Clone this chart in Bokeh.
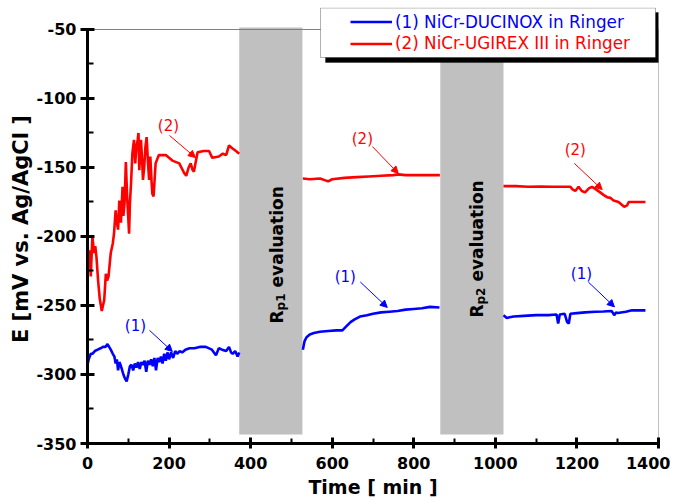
import math
from bokeh.plotting import figure
from bokeh.models import (Range1d, FixedTicker, ColumnDataSource, Legend, LegendItem,
                          Arrow, NormalHead, BoxAnnotation)
from bokeh.core.properties import value
from bokeh.embed import file_html
from bokeh.resources import INLINE

NAN = float("nan")

# ---------------- data ----------------
x_ticks = [0, 200, 400, 600, 800, 1000, 1200, 1400]
x_tick_labels = ["0", "200", "400", "600", "800", "1000", "1200", "1400"]
y_ticks = [-350, -300, -250, -200, -150, -100, -50]
y_tick_labels = ["-350", "-300", "-250", "-200", "-150", "-100", "-50"]

series_names = ["(1) NiCr-DUCINOX in Ringer", "(2) NiCr-UGIREX III in Ringer"]

# (1) blue series, three measurement segments
blue_t1 = [0, 3, 8, 12, 18, 25, 32, 38, 44, 49, 53, 57, 62, 66, 69, 72, 75, 78, 81, 84,
           88, 92, 96, 100, 104, 108, 112, 116, 120, 124, 128, 132, 136, 140, 144, 148,
           152, 156, 160, 164, 168, 172, 176, 180, 184, 188, 192, 196, 200, 205, 210,
           215, 220, 226, 232, 240, 250, 262, 275, 290, 305, 315, 322, 330, 340, 347,
           352, 356, 362, 368, 372]
blue_e1 = [-293, -289, -285, -285, -283, -282, -281, -280, -280, -278, -280, -282, -285,
           -287, -292, -289, -297, -291, -293, -296, -300, -303, -305, -300, -294, -293,
           -297, -292, -295, -291, -296, -291, -293, -290, -298, -290, -293, -289, -294,
           -288, -297, -288, -291, -287, -292, -285, -290, -284, -289, -284, -288, -283,
           -285, -283, -284, -282, -281, -281, -280, -280, -282, -286, -281, -282, -283,
           -280, -284, -285, -283, -287, -284]
blue_t2 = [528, 532, 537, 545, 555, 570, 590, 610, 625, 635, 645, 655, 668, 685, 700, 720,
           740, 760, 780, 800, 820, 840, 863]
blue_e2 = [-282, -276, -273, -271, -270, -269, -268.5, -268, -268, -265, -262, -260, -258,
           -257, -256, -255, -254.5, -254, -253, -252.5, -252, -251, -251.5]
blue_t3 = [1020, 1028, 1035, 1045, 1070, 1100, 1130, 1150, 1154, 1158, 1170, 1176, 1180,
           1184, 1200, 1220, 1245, 1265, 1285, 1292, 1296, 1300, 1320, 1335, 1350, 1368]
blue_e3 = [-257, -259, -258.5, -258, -257.5, -257, -257, -256.5, -263, -256.5, -256, -262,
           -263, -256, -255.5, -255, -254.5, -254.3, -254, -257, -255, -255.5, -254.5,
           -253.5, -253.5, -253.5]

# (2) red series, three measurement segments
red_t1 = [0, 2.5, 5, 8, 12, 16, 19, 22, 26, 30, 35, 38, 41, 45, 48, 51.5, 57, 62, 65, 69,
          71, 75, 78, 82, 86, 88, 91, 94, 97, 102, 104, 107, 110, 114, 117, 120, 123, 125,
          127, 131, 134, 136, 139, 142, 145, 148, 151, 154, 157, 159, 162, 167, 175, 192,
          208, 225, 237, 242, 248, 253, 258, 261, 266, 270, 285, 298, 306, 322, 332, 340,
          347, 355, 364, 372]
red_e1 = [-205, -217, -210, -229, -200, -212, -207, -215, -232, -245, -254, -250, -246,
          -227, -232, -229, -212, -205, -198, -181, -188, -195, -174, -190, -164, -185,
          -175, -146, -170, -198, -176, -160, -140, -130, -147, -135, -130, -125, -152,
          -130, -145, -159, -150, -135, -128, -145, -159, -142, -160, -169, -171, -147,
          -141, -141, -145, -147, -154, -156, -150, -147, -152, -153, -145, -139, -138,
          -138, -143, -142, -140, -141, -134, -136, -138, -140]
red_t2 = [528, 545, 570, 585, 590, 600, 630, 660, 690, 720, 750, 762, 780, 810, 840, 864]
red_e2 = [-158, -158.5, -158, -159.5, -160, -158.5, -157.5, -157, -156.5, -156, -155.5,
          -155, -155.5, -155.5, -155.5, -155.5]
red_t3 = [1020, 1050, 1080, 1110, 1140, 1170, 1184, 1190, 1196, 1204, 1212, 1220, 1230,
          1237, 1245, 1257, 1266, 1274, 1282, 1290, 1302, 1310, 1316, 1323, 1327, 1345, 1368]
red_e3 = [-163.5, -163.5, -164, -163.8, -164, -164, -164, -166, -167, -164, -167, -168,
          -165, -164, -165.5, -168, -170, -171.5, -172, -174, -175, -177, -178.5, -177.5,
          -175, -175, -175]

# Rp evaluation periods (min)
rp_start = [372, 865]
rp_end = [527, 1020]
rp_names = ["p1", "p2"]


def join(*segs):
    t, e = [], []
    for i, (ts, es) in enumerate(segs):
        if i:
            t.append(NAN)
            e.append(NAN)
        t += list(ts)
        e += list(es)
    return t, e


blue_t, blue_e = join((blue_t1, blue_e1), (blue_t2, blue_e2), (blue_t3, blue_e3))
red_t, red_e = join((red_t1, red_e1), (red_t2, red_e2), (red_t3, red_e3))

BLUE = "#0000ff"
RED = "#ff0000"
FONT = "DejaVu Sans"

X0, X1 = 0, 1400
Y0, Y1 = -350, -50
Y_TOP = -34.06          # frame extends above -50 so the legend box can overlap it

p = figure(frame_width=571, frame_height=436, output_backend="svg", toolbar_location=None,
           x_range=Range1d(X0, X1), y_range=Range1d(Y0, Y_TOP),
           min_border_left=87, min_border_right=12, min_border_top=7,
           min_border_bottom=57)
p.background_fill_color = "white"
p.border_fill_color = "white"
p.outline_line_color = None
p.xgrid.visible = False
p.ygrid.visible = False

# gray evaluation bands
p.quad(left=rp_start, right=rp_end, bottom=-343.5, top=-48.5, fill_color="#c0c0c0",
       line_color=None)

# thin top / right frame lines
p.segment(x0=[X0, X1], y0=[Y1, Y0], x1=[X1, X1], y1=[Y1, Y1], line_color="#808080",
          line_width=1)

blue_r = p.line(blue_t, blue_e, line_color=BLUE, line_width=2.6)
red_r = p.line(red_t, red_e, line_color=RED, line_width=2.6)

# axes
for ax in (p.xaxis[0], p.yaxis[0]):
    ax.axis_line_width = 3
    ax.major_tick_line_width = 3
    ax.minor_tick_line_width = 2
    ax.major_label_text_font = FONT
    ax.major_label_text_font_style = "bold"
    ax.major_label_text_font_size = "16px"
    ax.major_label_text_color = "black"
    ax.axis_label_text_font = FONT
    ax.axis_label_text_font_style = "bold"
    ax.axis_label_text_color = "black"

p.xaxis.ticker = FixedTicker(ticks=x_ticks, minor_ticks=[100, 300, 500, 700, 900, 1100, 1300])
p.xaxis.major_label_overrides = dict(zip(x_ticks, x_tick_labels))
p.xaxis.major_tick_in = 6
p.xaxis.major_tick_out = 5
p.xaxis.minor_tick_in = 5
p.xaxis.minor_tick_out = 0
p.xaxis.major_label_standoff = 8
p.xaxis.axis_label = "Time [ min ]"
p.xaxis.axis_label_text_font_size = "19px"
p.xaxis.axis_label_standoff = 4

p.yaxis.ticker = FixedTicker(ticks=y_ticks, minor_ticks=[-325, -275, -225, -175, -125, -75])
p.yaxis.major_label_overrides = dict(zip(y_ticks, y_tick_labels))
p.yaxis.bounds = (Y0, Y1)
p.yaxis.major_tick_in = 7
p.yaxis.major_tick_out = 7
p.yaxis.minor_tick_in = 6
p.yaxis.minor_tick_out = 0
p.yaxis.major_label_standoff = 4
p.yaxis.axis_label = "E  [mV vs. Ag/AgCl ]"
p.yaxis.axis_label_text_font_size = "21px"
p.yaxis.axis_label_standoff = 0

# Rp evaluation texts (rotated, with subscript)
MPX = 300 / 414.0   # mV per pixel
TPX = 1400 / 571.0  # min per pixel
r_base_t = [465.7, 956]
r_base_e = [-263, -258.7]
p.text(x=r_base_t, y=r_base_e, text=["R", "R"], angle=math.pi / 2,
       text_font=value(FONT), text_font_style="bold", text_font_size="17px",
       text_align="left", text_baseline="alphabetic", text_color="black")
p.text(x=[t + 4 * TPX for t in r_base_t], y=[e + 13 * MPX for e in r_base_e],
       text=rp_names, angle=math.pi / 2, text_font=value(FONT), text_font_style="bold",
       text_font_size="12px", text_align="left", text_baseline="alphabetic",
       text_color="black")
p.text(x=r_base_t, y=[e + 36 * MPX for e in r_base_e], text=["evaluation", "evaluation"],
       angle=math.pi / 2, text_font=value(FONT), text_font_style="bold",
       text_font_size="17px", text_align="left", text_baseline="alphabetic",
       text_color="black")

# curve annotations with arrows
red_lbl_t = [198.5, 674, 1196]
red_lbl_e = [-119.6, -129.7, -137]
red_arr = dict(x0=[201, 698.5, 1193.6], y0=[-126.8, -134.8, -147],
               x1=[264.7, 762, 1262], y1=[-142.8, -154.3, -166])
blue_lbl_t = [117.6, 632, 1211]
blue_lbl_e = [-264.5, -229, -227.5]
blue_arr = dict(x0=[152, 669, 1228], y0=[-268, -233, -233],
                x1=[208, 735, 1292], y1=[-283.3, -251.4, -251])

for lt, le, arr, col, lab in ((red_lbl_t, red_lbl_e, red_arr, RED, "(2)"),
                              (blue_lbl_t, blue_lbl_e, blue_arr, BLUE, "(1)")):
    p.text(x=lt, y=le, text=[lab] * len(lt), text_font=value(FONT),
           text_font_size="15px", text_align="center", text_baseline="middle",
           text_color=col)
    src = ColumnDataSource(arr)
    p.add_layout(Arrow(end=NormalHead(size=7, fill_color=col, line_color=col),
                       x_start="x0", y_start="y0", x_end="x1", y_end="y1",
                       source=src, line_color=col, line_width=1))

# legend box with shadow
shadow = BoxAnnotation(left=325, right=660, top=12, bottom=62,
                       left_units="canvas", right_units="canvas",
                       top_units="canvas", bottom_units="canvas",
                       fill_color="black", fill_alpha=1, line_color="black",
                       level="overlay")
box = BoxAnnotation(left=320, right=655, top=7.5, bottom=57,
                    left_units="canvas", right_units="canvas",
                    top_units="canvas", bottom_units="canvas",
                    fill_color="white", fill_alpha=1, line_color="black",
                    line_width=1, level="overlay")
p.add_layout(shadow)
p.add_layout(box)

for rend, name, col, vy in ((blue_r, series_names[0], BLUE, 406.8),
                            (red_r, series_names[1], RED, 385.5)):
    lg = Legend(items=[LegendItem(label=name, renderers=[rend])], location=(259, vy),
                padding=4, spacing=0, margin=0, glyph_width=42, glyph_height=21,
                label_height=21, label_standoff=3, label_text_font=FONT,
                label_text_font_size="16.8px", label_text_color=col,
                background_fill_alpha=0, border_line_alpha=0,
                label_text_baseline="middle")
    p.add_layout(lg, "center")

open("out.html", "w").write(file_html(p, INLINE))
